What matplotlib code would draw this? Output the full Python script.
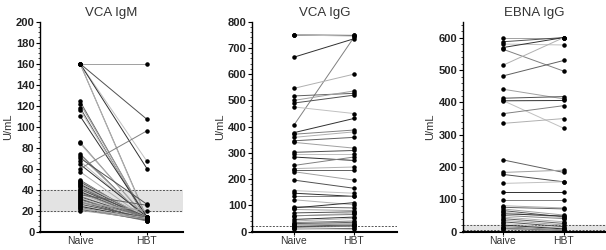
import matplotlib.pyplot as plt
from matplotlib.ticker import MultipleLocator

plt.rcParams['font.family'] = ['Liberation Sans', 'DejaVu Sans']

# -------------------------------
# Data (paired: Naive -> HBT)
# -------------------------------
groups = ["Naive", "HBT"]

igm_naive = [160, 160, 160, 160, 160, 160, 124, 122, 118, 116, 110, 85, 84, 74, 72,
             70, 67, 64, 60, 57, 49, 48, 47, 46, 45, 44, 43, 42, 41, 40, 39, 38,
             37, 36, 35, 34, 33, 32, 31, 30, 29, 28, 27, 26, 25, 24, 23, 22, 21, 20]
igm_hbt = [160, 107, 67, 60, 13, 12, 12, 13, 11, 12, 14, 12, 13, 11, 12,
           26, 13, 14, 96, 12, 11, 12, 13, 14, 12, 11, 13, 12, 10, 14, 11, 12,
           13, 12, 25, 11, 13, 12, 10, 14, 11, 12, 20, 13, 11, 12, 10, 13, 11, 12]

igg_naive = [750, 750, 750, 665, 406, 546, 517, 500, 490, 475, 377, 371, 359, 346,
             340, 302, 296, 284, 252, 240, 234, 228, 196, 156, 146, 134, 121, 94,
             84, 71, 59, 46, 34, 27, 20, 15, 10, 12, 90, 60, 40, 30, 25, 18]
igg_hbt = [750, 748, 745, 735, 740, 600, 527, 536, 520, 450, 431, 387, 380, 359,
           318, 309, 296, 271, 284, 246, 234, 196, 165, 146, 134, 134, 102, 90,
           80, 75, 70, 55, 40, 30, 25, 20, 12, 8, 110, 65, 50, 35, 28, 22]

ebna_naive = [601, 588, 581, 570, 565, 515, 482, 441, 413, 406, 405, 365, 335, 222,
              183, 177, 149, 122, 97, 80, 75, 70, 65, 60, 55, 50, 45, 40, 35, 30,
              25, 20, 15, 12, 10, 8]
ebna_hbt = [601, 601, 578, 601, 497, 601, 530, 411, 418, 320, 406, 390, 350, 183,
            190, 154, 154, 122, 97, 73, 70, 51, 45, 43, 48, 40, 30, 25, 20, 15,
            10, 8, 5, 3, 2, 1]

shades = ['#a0a0a0', '#505050', '#c0c0c0', '#303030', '#808080', '#b0b0b0', '#606060']

fig = plt.figure(figsize=(6.06, 2.5), dpi=100)

panels = [
    ("VCA IgM", igm_naive, igm_hbt, [0.066, 0.074, 0.236, 0.839], (0, 200), 20, 5,
     (-0.6, 1.54), (20, 40)),
    ("VCA IgG", igg_naive, igg_hbt, [0.416, 0.074, 0.239, 0.839], (0, 800), 100, 20,
     (-0.70, 1.72), (22, 22)),
    ("EBNA IgG", ebna_naive, ebna_hbt, [0.7635, 0.074, 0.236, 0.839], (0, 650), 100, 20,
     (-0.66, 1.69), (5, 20)),
]

for title, naive, hbt, pos, ylim, major, minor, xlim, band in panels:
    ax = fig.add_axes(pos)
    for i, (a, b) in enumerate(zip(naive, hbt)):
        ax.plot([0, 1], [a, b], color=shades[i % len(shades)], lw=0.7, zorder=2)
    ax.scatter([0] * len(naive), naive, s=5, color='black', zorder=3)
    ax.scatter([1] * len(hbt), hbt, s=5, color='black', zorder=3)

    # reference band
    if band[0] != band[1]:
        ax.axhspan(band[0], band[1], color='#e3e3e3', zorder=0)
    for yb in set(band):
        ax.axhline(yb, color='#555555', lw=0.7, ls=(0, (2, 1.5)), zorder=1)

    ax.set_xlim(*xlim)
    ax.set_ylim(*ylim)
    ax.set_xticks([0, 1])
    ax.set_xticklabels(groups, fontsize=7.5, color='#333333')
    ax.tick_params(axis='x', length=2, width=0.8, pad=1)
    ax.yaxis.set_major_locator(MultipleLocator(major))
    ax.yaxis.set_minor_locator(MultipleLocator(minor))
    ax.tick_params(axis='y', which='major', length=3, width=0.8, labelsize=8, pad=1)
    ax.tick_params(axis='y', which='minor', length=1.5, width=0.5)
    for lab in ax.get_yticklabels():
        lab.set_fontweight('bold')
        lab.set_color('#222222')
    ax.spines['top'].set_visible(False)
    ax.spines['right'].set_visible(False)
    ax.spines['left'].set_linewidth(1.0)
    ax.spines['bottom'].set_linewidth(1.5)
    ax.set_title(title, fontsize=9.5, color='#333333', pad=4)
    ax.set_ylabel("U/mL", fontsize=8, color='#333333', labelpad=2)

fig.savefig("out.png", dpi=100)
